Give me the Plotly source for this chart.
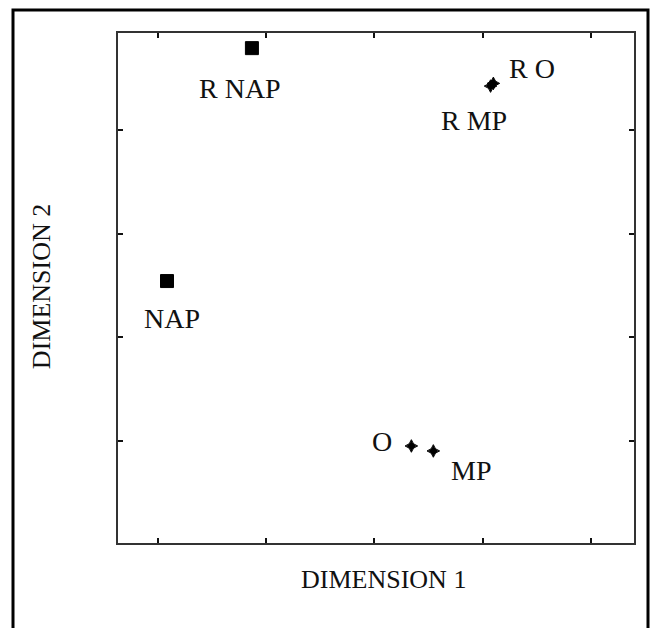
import plotly.graph_objects as go

# Two-dimensional scaling solution: stimulus coordinates
labels = ["R NAP", "NAP", "R MP", "R O", "O", "MP"]
dim1 = [1.868, 1.083, 4.074, 4.100, 3.342, 3.545]
dim2 = [4.790, 2.543, 4.424, 4.450, 0.952, 0.904]
symbols = ["square", "square", "star-diamond", "star-diamond", "star-diamond", "star-diamond"]
sizes = [13, 13, 9, 9, 9, 9]

# label placement around each marker (pixels)
label_dx = [-12, 5, -17, 39, -29, 38]
label_dy = [-40, -37, -34, 15, 4, -20]

tick_positions_x = [1, 2, 3, 4, 5]
tick_positions_y = [1, 2, 3, 4]

FONT = "Liberation Serif, Times New Roman, serif"
INK = "#111111"

fig = go.Figure()
fig.add_trace(go.Scatter(
    x=dim1, y=dim2, mode="markers",
    marker=dict(symbol=symbols, size=sizes, color="black", opacity=1,
                line=dict(width=1, color="black")),
    hoverinfo="skip", showlegend=False,
))

for lab, x, y, dx, dy in zip(labels, dim1, dim2, label_dx, label_dy):
    fig.add_annotation(x=x, y=y, text=lab, showarrow=False,
                       xshift=dx, yshift=dy, xanchor="center", yanchor="middle",
                       font=dict(family=FONT, size=28, color=INK))

axis_common = dict(showgrid=False, zeroline=False, showticklabels=False,
                   ticks="inside", ticklen=5, tickwidth=1.5, tickcolor=INK,
                   showline=True, linecolor="#333333", linewidth=2, mirror="ticks")

fig.update_xaxes(range=[0.63, 5.40], tickvals=tick_positions_x, **axis_common)
fig.update_yaxes(range=[0.016, 4.936], tickvals=tick_positions_y, **axis_common)

fig.add_annotation(xref="paper", yref="paper", x=0.5155, y=-0.0725,
                   text="DIMENSION 1", showarrow=False,
                   xanchor="center", yanchor="middle",
                   font=dict(family=FONT, size=26, color=INK))
fig.add_annotation(xref="paper", yref="paper", x=-0.147, y=0.502,
                   text="DIMENSION 2", showarrow=False, textangle=-90,
                   xanchor="center", yanchor="middle",
                   font=dict(family=FONT, size=26, color=INK))

# outer frame around the figure
fig.add_shape(type="rect", xref="paper", yref="paper",
              x0=(13 - 118) / 516, x1=(648 - 118) / 516,
              y0=(543 - 660) / 510, y1=(543 - 10) / 510,
              line=dict(color="black", width=3), fillcolor="rgba(0,0,0,0)",
              layer="below")

fig.update_layout(
    width=650, height=628,
    margin=dict(l=118, r=16, t=33, b=85),
    paper_bgcolor="white", plot_bgcolor="white",
)

fig.write_html("out.html")
